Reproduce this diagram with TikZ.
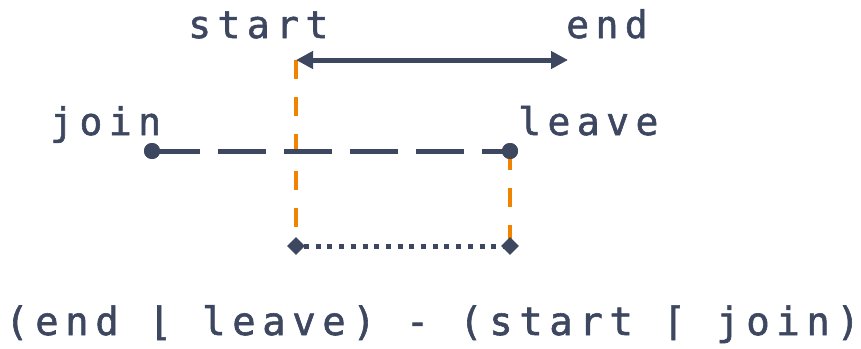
\documentclass[tikz,border=0pt]{standalone}
\usepackage{fontspec}
\setmonofont[LetterSpace=17,FakeBold=1.5]{DejaVu Sans Mono}
\usetikzlibrary{arrows.meta,shapes.geometric}
\definecolor{ink}{HTML}{3D4760}
\definecolor{orng}{HTML}{F08300}
\tikzset{
  lbl/.style={anchor=base west,inner sep=0pt,text=ink,font=\fontsize{38}{40}\selectfont\ttfamily},
  dotnode/.style={circle,fill=ink,inner sep=0pt,minimum size=16pt},
  dmd/.style={diamond,fill=ink,inner sep=0pt,minimum size=18pt},
  orngline/.style={orng,line width=4pt,dash pattern=on 19pt off 18pt},
}
\begin{document}
\begin{tikzpicture}[x=1pt,y=-1pt]
\useasboundingbox (0,0) rectangle (861,348);
% labels
\node[lbl] (lstart) at (188,38) {start};
\node[lbl] (lend) at (566,38) {end};
\node[lbl] (ljoin) at (50,135) {join};
\node[lbl] (lleave) at (518,135) {leave};
\node[lbl,font=\fontsize{38.9}{41}\selectfont\ttfamily] (formula) at (5,335) {(end ⌊ leave) - (start ⌈ join)};
% points
\coordinate (s) at (296,60);
\coordinate (e) at (568,60);
\coordinate (sb) at (296,246);
\coordinate (lb) at (510,246);
% orange verticals
\draw[orngline] (s) -- (sb);
\draw[orngline] (510,151) -- (lb);
% dashed interval
\node[dotnode] (j) at (152,151) {};
\node[dotnode] (l) at (510,151) {};
\draw[ink,line width=5pt,dash pattern=on 48pt off 18pt] (j.center) -- (l.center);
\node[dotnode] at (j) {};
\node[dotnode] at (l) {};
% arrow
\draw[ink,line width=5pt,{Triangle[length=17pt,width=17pt]}-{Triangle[length=17pt,width=17pt]}] (s) -- (e);
% dotted
\draw[ink,line width=5pt,dash pattern=on 5pt off 6.7pt] ([xshift=8pt]sb) -- (lb);
\node[dmd] (d1) at (sb) {};
\node[dmd] (d2) at (lb) {};
\end{tikzpicture}
\end{document}
